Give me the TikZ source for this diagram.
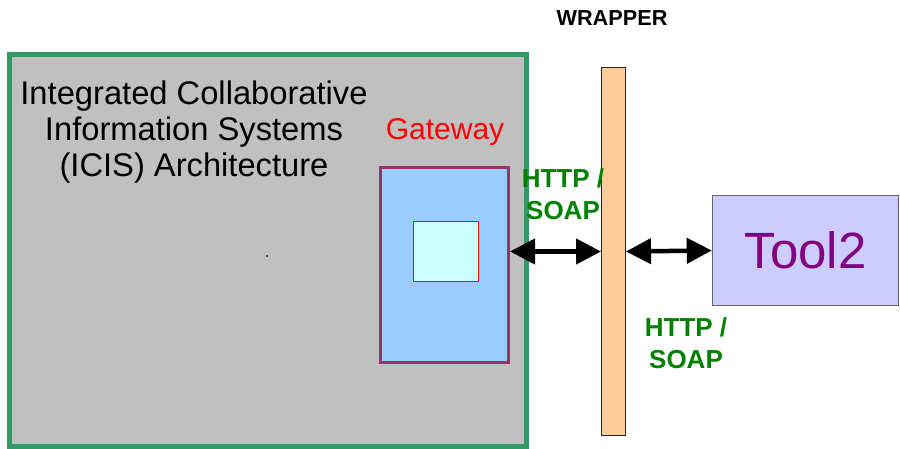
\documentclass[tikz,border=0pt]{standalone}
\usepackage{fontspec}
\setmainfont{Liberation Sans}
\usetikzlibrary{arrows.meta}
\definecolor{icisgreen}{HTML}{339966}
\definecolor{icisgray}{HTML}{C0C0C0}
\definecolor{gwblue}{HTML}{99CCFF}
\definecolor{gwborder}{HTML}{993366}
\definecolor{gwcyan}{HTML}{CCFFFF}
\definecolor{wrapfill}{HTML}{FFCC99}
\definecolor{toolfill}{HTML}{CCCCFF}
\definecolor{toolpurple}{HTML}{800080}
\definecolor{protogreen}{HTML}{008000}

\begin{document}
\begin{tikzpicture}[x=1pt,y=-1pt,
  box/.style={rectangle,inner sep=0pt},
  link/.style={{Triangle[length=25pt,width=25pt]}-{Triangle[length=25pt,width=25pt]},line width=4.5pt},
  proto/.style={text=protogreen,font=\fontsize{26}{32}\selectfont\bfseries,align=center,anchor=base}]
  \useasboundingbox (0,0) rectangle (900,449);
  % ICIS block
  \node[box,draw=icisgreen,line width=5pt,fill=icisgray,
    minimum width=516.5pt,minimum height=392pt] (icis) at (267.75,250.5) {};
  \node[anchor=base,align=center,font=\fontsize{32.7}{36}\selectfont] (icistext) at (194,177)
    {Integrated Collaborative\\Information Systems\\(ICIS) Architecture};
  \fill (267,256) circle (1pt);
  % gateway
  \node[box,draw=gwborder,line width=3pt,fill=gwblue,
    minimum width=128pt,minimum height=195pt] (gateway) at (444.5,265) {};
  \node[box,draw=red,line width=1pt,fill=gwcyan,
    minimum width=65pt,minimum height=60pt] (gwcore) at (446,251.5) {};
  \node[anchor=base,text=red,font=\fontsize{30}{36}\selectfont] (gwlabel) at (445,140) {Gateway};
  % wrapper
  \node[box,draw=black!85,line width=1pt,fill=wrapfill,
    minimum width=24pt,minimum height=368pt] (wrapper) at (613.5,251.5) {};
  \node[anchor=base,font=\fontsize{21.7}{26}\selectfont\bfseries] (wraplabel) at (612,26) {WRAPPER};
  % tool
  \node[box,draw=black!60,line width=1.5pt,fill=toolfill,text=toolpurple,
    font=\fontsize{51}{60}\selectfont,
    minimum width=186pt,minimum height=110pt] (tool2) at (805.5,250.5) {Tool2};
  % links
  \draw[link] (wrapper.west -| gateway.east) -- (wrapper.west);
  \draw[link] (wrapper.east) -- (tool2.west);
  \node[proto] (http1) at (563,220) {HTTP /\\SOAP};
  \node[proto] (http2) at (686,368) {HTTP /\\SOAP};
\end{tikzpicture}
\end{document}
